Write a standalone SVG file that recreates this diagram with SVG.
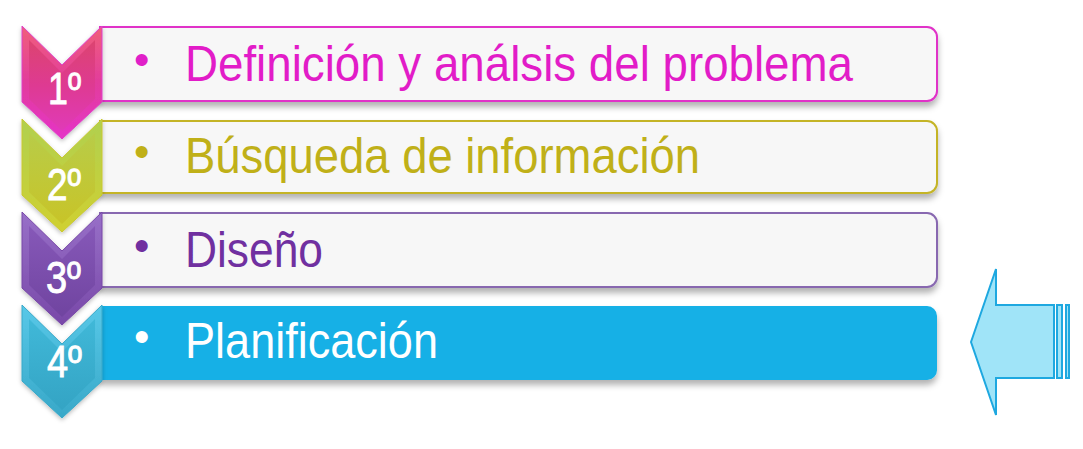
<svg xmlns="http://www.w3.org/2000/svg" width="1083" height="449" viewBox="0 0 1083 449">
<defs>
<filter id="sh" x="-5%" y="-20%" width="110%" height="160%">
<feDropShadow dx="0" dy="5" stdDeviation="3" flood-color="#000" flood-opacity="0.3"/>
</filter>
<filter id="csh" x="-20%" y="-20%" width="140%" height="140%">
<feDropShadow dx="0" dy="2" stdDeviation="2" flood-color="#000" flood-opacity="0.25"/>
</filter>
<linearGradient id="g1" x1="0" y1="0" x2="0" y2="1"><stop offset="0" stop-color="#F0607A"/><stop offset="0.5" stop-color="#E23C9C"/><stop offset="1" stop-color="#E534C8"/></linearGradient>
<linearGradient id="g1i" x1="0" y1="0" x2="0" y2="1"><stop offset="0" stop-color="#DC4470"/><stop offset="0.5" stop-color="#DE3A92"/><stop offset="1" stop-color="#E03AB8"/></linearGradient>
<linearGradient id="g2" x1="0" y1="0" x2="0" y2="1"><stop offset="0" stop-color="#B0D050"/><stop offset="1" stop-color="#D0D030"/></linearGradient>
<linearGradient id="g2i" x1="0" y1="0" x2="0" y2="1"><stop offset="0" stop-color="#B8CC48"/><stop offset="1" stop-color="#C8C428"/></linearGradient>
<linearGradient id="g3" x1="0" y1="0" x2="0" y2="1"><stop offset="0" stop-color="#9870C8"/><stop offset="1" stop-color="#7848A8"/></linearGradient>
<linearGradient id="g3i" x1="0" y1="0" x2="0" y2="1"><stop offset="0" stop-color="#8658B8"/><stop offset="1" stop-color="#7044A0"/></linearGradient>
<linearGradient id="g4" x1="0" y1="0" x2="0" y2="1"><stop offset="0" stop-color="#58C8E8"/><stop offset="1" stop-color="#38A8C8"/></linearGradient>
<linearGradient id="g4i" x1="0" y1="0" x2="0" y2="1"><stop offset="0" stop-color="#40B8D8"/><stop offset="1" stop-color="#34A4C4"/></linearGradient>
</defs>
<style>
.box{stroke-width:2}
.t{font-family:"Liberation Sans",Arial,sans-serif;font-size:50px}
.n{font-family:"Liberation Sans",Arial,sans-serif;font-size:45px;fill:#fff;stroke:#fff;stroke-width:0.9}
.b{font-family:"Liberation Sans",Arial,sans-serif;font-size:44px}
.arr{fill:#A0E4F8;stroke:#1EA8E0;stroke-width:2}
</style>

<g id="step1">
<path class="box" filter="url(#sh)" d="M100,27 H927 A10,10 0 0 1 937,37 V91 A10,10 0 0 1 927,101 H100 Z" fill="#F7F7F7" stroke="#E030C8"/>
<polygon filter="url(#csh)" points="22,26 62,65 102,26 102,102 62,139 22,102" fill="url(#g1)" stroke="#E040C8" stroke-width="1"/>
<polygon points="29,40 62,73 95,40 95,99 62,131 29,99" fill="url(#g1i)"/>
<text class="n" x="48" y="104" textLength="33" lengthAdjust="spacingAndGlyphs">1º</text>
<text class="b" x="134" y="75" fill="#E020C8">•</text>
<text class="t" x="185" y="81" fill="#E21CC8" textLength="668" lengthAdjust="spacingAndGlyphs">Definición y análsis del problema</text>
</g>

<g id="step2">
<path class="box" filter="url(#sh)" d="M100,121 H927 A10,10 0 0 1 937,131 V183 A10,10 0 0 1 927,193 H100 Z" fill="#F7F7F7" stroke="#C4B426"/>
<polygon filter="url(#csh)" points="22,119 62,158 102,119 102,195 62,232 22,195" fill="url(#g2)" stroke="#C8C830" stroke-width="1"/>
<polygon points="29,133 62,166 95,133 95,192 62,224 29,192" fill="url(#g2i)"/>
<text class="n" x="47" y="200" textLength="34" lengthAdjust="spacingAndGlyphs">2º</text>
<text class="b" x="134" y="167" fill="#C0B018">•</text>
<text class="t" x="185" y="173" fill="#C0B018" textLength="515" lengthAdjust="spacingAndGlyphs">Búsqueda de información</text>
</g>

<g id="step3">
<path class="box" filter="url(#sh)" d="M100,213 H927 A10,10 0 0 1 937,223 V277 A10,10 0 0 1 927,287 H100 Z" fill="#F7F7F7" stroke="#8868B0"/>
<polygon filter="url(#csh)" points="22,212 62,251 102,212 102,288 62,325 22,288" fill="url(#g3)" stroke="#7848A8" stroke-width="1"/>
<polygon points="29,226 62,259 95,226 95,285 62,317 29,285" fill="url(#g3i)"/>
<text class="n" x="46" y="293" textLength="35" lengthAdjust="spacingAndGlyphs">3º</text>
<text class="b" x="134" y="261" fill="#7030A0">•</text>
<text class="t" x="185" y="267" fill="#7030A0" textLength="138" lengthAdjust="spacingAndGlyphs">Diseño</text>
</g>

<g id="step4">
<path filter="url(#sh)" d="M100,306 H927 A10,10 0 0 1 937,316 V370 A10,10 0 0 1 927,380 H100 Z" fill="#13B0E6"/>
<polygon filter="url(#csh)" points="22,305 62,344 102,305 102,381 62,418 22,381" fill="url(#g4)" stroke="#38A8C8" stroke-width="1"/>
<polygon points="29,319 62,352 95,319 95,378 62,410 29,378" fill="url(#g4i)"/>
<text class="n" x="47" y="377" textLength="35" lengthAdjust="spacingAndGlyphs">4º</text>
<text class="b" x="134" y="352" fill="#FFFFFF">•</text>
<text class="t" x="185" y="358" fill="#FFFFFF" textLength="253" lengthAdjust="spacingAndGlyphs">Planificación</text>
</g>

<g id="pointer">
<polygon class="arr" points="971,342 996,269 996,305 1054,305 1054,378 996,378 996,415"/>
<rect class="arr" x="1057" y="305" width="5" height="73"/>
<rect class="arr" x="1066" y="305" width="3" height="73"/>
</g>
</svg>
